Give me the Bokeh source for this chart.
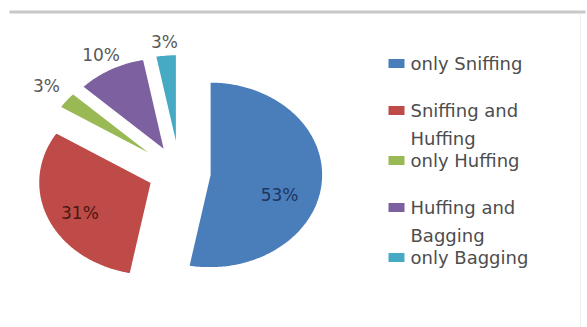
import numpy as np
from bokeh.plotting import figure
from bokeh.models import Range1d
from bokeh.embed import file_html
from bokeh.resources import INLINE
from bokeh.core.properties import value

# ---- data ----
categories = ["only Sniffing", "Sniffing and Huffing", "only Huffing",
              "Huffing and Bagging", "only Bagging"]
shares = [53, 31, 3, 10, 3]
pct_labels = ["53%", "31%", "3%", "10%", "3%"]

# ---- styles ----
colors = ["#4a7ebb", "#be4b48", "#98b954", "#7d60a0", "#46aac5"]
label_colors = ["#1c355e", "#4b1614", "#595959", "#595959", "#595959"]
FONT = "DejaVu Sans"

W, H = 587, 327
p = figure(width=W, height=H, output_backend="svg", toolbar_location=None,
           x_range=Range1d(0, W), y_range=Range1d(H, 0),
           x_axis_location=None, y_axis_location=None, min_border=0)
p.grid.visible = False
p.outline_line_color = None
p.background_fill_color = "white"
p.border_fill_color = "white"

# frame rules
p.segment(x0=[9], y0=[11.5], x1=[585], y1=[11.5], line_color="#c8c8c8", line_width=3)
p.segment(x0=[580], y0=[13], x1=[580], y1=[327], line_color="#efefef", line_width=1)

# ---- exploded pie (elliptical, as in the reference) ----
cx, cy, rx, ry, explode = 179, 172, 113, 93, 0.27
fr = np.array(shares, dtype=float) / sum(shares)
ends = np.cumsum(fr) * 2 * np.pi
starts = ends - fr * 2 * np.pi
mids = (starts + ends) / 2

xs, ys, origins = [], [], []
for a0, a1, m in zip(starts, ends, mids):
    ox = cx + explode * rx * np.sin(m)
    oy = cy - explode * ry * np.cos(m)
    origins.append((ox, oy))
    t = np.linspace(a0, a1, max(4, int(np.degrees(a1 - a0)) + 2))
    xs.append(np.concatenate([[ox], ox + rx * np.sin(t)]).tolist())
    ys.append(np.concatenate([[oy], oy - ry * np.cos(t)]).tolist())

p.patches(xs, ys, fill_color=colors, line_color="white", line_width=1.5)

# ---- data labels ----
label_r = [0.62, 0.69, 1.22, 1.17, 1.14]
label_dy = [15, 5, -2, 0, 0]
lx, ly = [], []
for (ox, oy), m, f, dy in zip(origins, mids, label_r, label_dy):
    lx.append(ox + f * rx * np.sin(m))
    ly.append(oy - f * ry * np.cos(m) + dy)
p.text(x=lx, y=ly, text=pct_labels, text_color=label_colors,
       text_font=value(FONT), text_font_size="17px",
       text_align="center", text_baseline="middle")

# ---- legend ----
row_y = [63, 110, 160, 207, 257]
wrap_gap = 28
p.rect(x=[396] * len(row_y), y=row_y, width=16, height=9,
       fill_color=colors, line_color=None)
tx, ty, tt = [], [], []
for name, y in zip(categories, row_y):
    if " and " in name:
        first, second = name.split(" and ")
        lines = [first + " and", second]
    else:
        lines = [name]
    for k, ln in enumerate(lines):
        tx.append(410)
        ty.append(y + k * wrap_gap)
        tt.append(ln)
p.text(x=tx, y=ty, text=tt, text_color="#4d4d4d", text_font=value(FONT),
       text_font_size="18px", text_align="left", text_baseline="middle")

open("out.html", "w").write(file_html(p, INLINE))
